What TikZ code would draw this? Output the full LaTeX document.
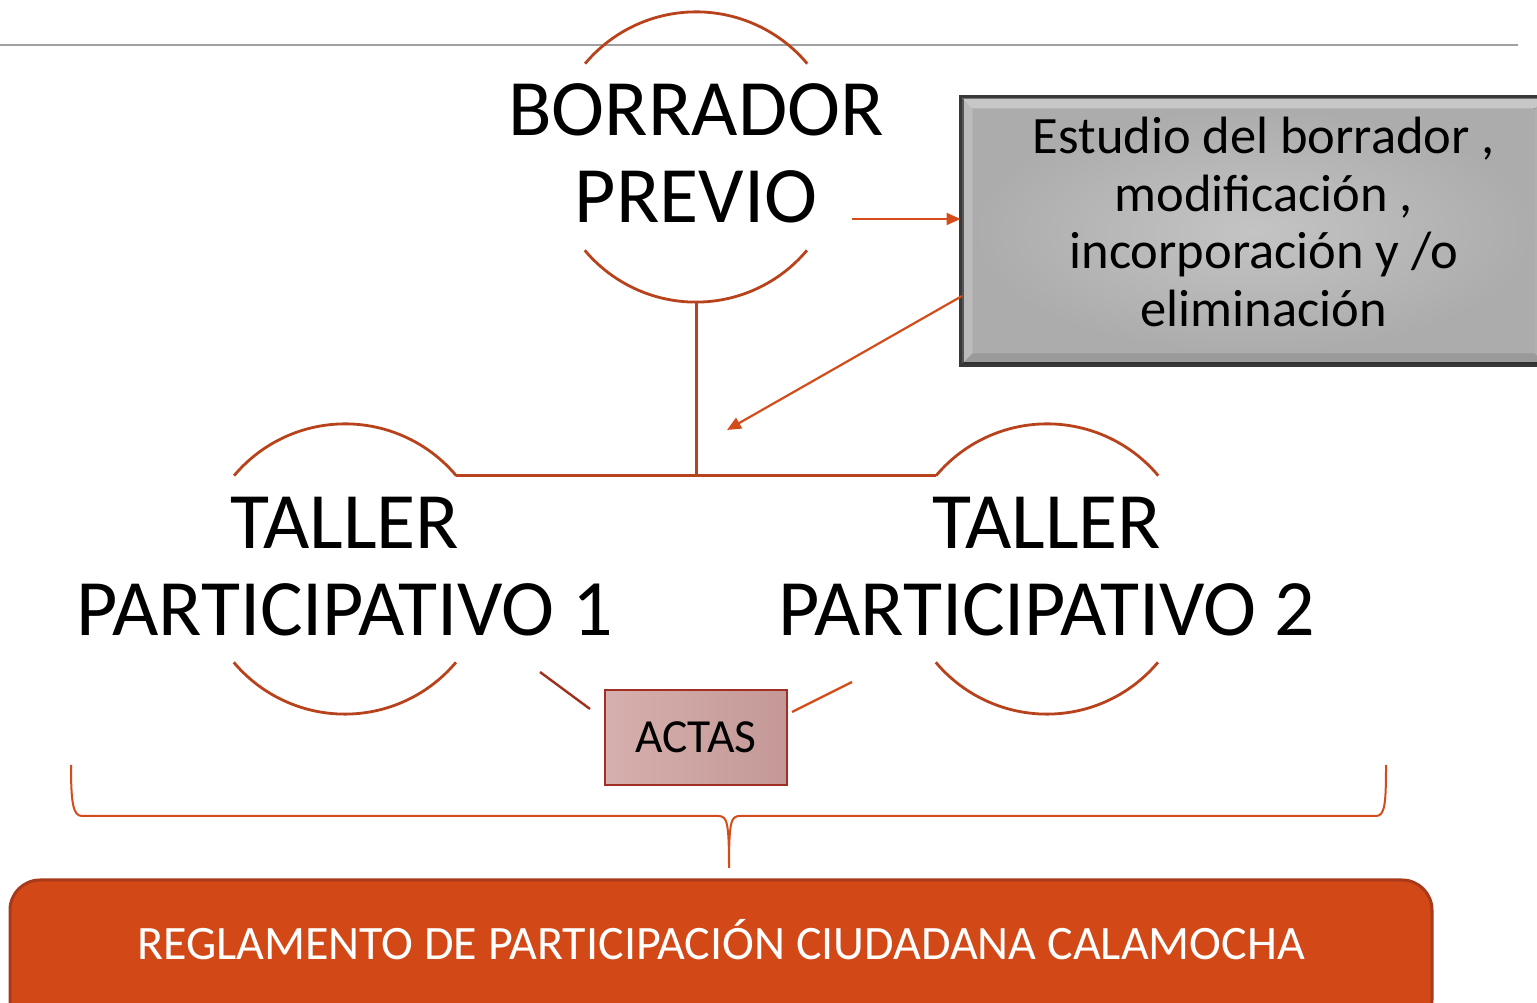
\documentclass[tikz,border=0pt]{standalone}
\usepackage{fontspec}
\setmainfont{Carlito}
\usetikzlibrary{arrows.meta,shapes.geometric}
\definecolor{arcc}{RGB}{184,66,28}
\definecolor{orng}{RGB}{211,76,26}
\definecolor{dred}{RGB}{160,48,30}
\definecolor{botfill}{RGB}{210,73,23}
\definecolor{botdraw}{RGB}{168,57,26}
\definecolor{actfillA}{RGB}{214,176,174}
\definecolor{actfillB}{RGB}{196,152,150}
\definecolor{actdraw}{RGB}{160,48,38}
\definecolor{rulec}{RGB}{160,160,160}
\tikzset{
  ring/.style={circle, minimum size=290pt, inner sep=0pt, draw=none},
  arcline/.style={draw=arcc, line width=2.8pt},
  conn/.style={draw=arcc, line width=3pt},
  arr/.style={draw=orng, line width=2.2pt, -{Triangle[length=14pt,width=12pt]}},
  bigtext/.style={font=\fontsize{80}{87}\selectfont, align=center, inner sep=0pt},
  graybox/.style={draw=black!78, line width=3pt, minimum width=583pt, minimum height=266pt, inner sep=0pt},
  graytext/.style={font=\fontsize{52.5}{57.5}\selectfont, align=center, inner sep=0pt},
  actbox/.style={draw=actdraw, line width=2.4pt, minimum width=182pt, minimum height=95pt, inner sep=0pt,
     shading=axis, shading angle=135, left color=actfillA, right color=actfillB, font=\fontsize{47.5}{54}\selectfont},
  botbox/.style={draw=botdraw, line width=3pt, fill=botfill, rounded corners=30pt, minimum width=1422pt, minimum height=150pt, inner sep=0pt},
  bottext/.style={text=white, font=\fontsize{48}{54}\selectfont, inner sep=0pt},
  bracec/.style={draw=orng, line width=2pt},
}
\begin{document}
\begin{tikzpicture}[x=1pt,y=1pt]
\useasboundingbox (0,0) rectangle (1537,1003);
\clip (0,0) rectangle (1537,1003);
% top rule
\draw[rulec, line width=1.5pt] (0,958) -- (1518,958);

% circles (invisible frames) and arcs
\node[ring] (bor) at (696,846) {};
\node[ring] (c1) at (345,434) {};
\node[ring] (c2) at (1047,434) {};
\foreach \n in {bor,c1,c2}{
  \draw[arcline] (\n.40) arc[start angle=40, end angle=140, radius=145pt];
  \draw[arcline] (\n.220) arc[start angle=220, end angle=320, radius=145pt];
}
\node[bigtext] (tbor) at (696,849.5) {BORRADOR\\PREVIO};
\node[bigtext] (t1) at (345,436.5) {TALLER\\PARTICIPATIVO 1};
\node[bigtext] (t2) at (1047,436.5) {TALLER\\PARTICIPATIVO 2};

% tree connectors
\draw[conn] (c1.40) -- (c2.140);
\draw[conn] (bor.south) -- (bor.south |- c1.40);

% gray box
\node[graybox, fill={rgb,255:red,176;green,176;blue,176}] (gray) at (1253.5,772) {};
\fill[inner color={rgb,255:red,196;green,196;blue,196}, outer color={rgb,255:red,172;green,172;blue,172}]
  ([shift={(12pt,12pt)}]gray.south west) rectangle ([shift={(-12pt,-12pt)}]gray.north east);
\fill[white, opacity=0.3] (gray.north west) -- (gray.north east) -- ([shift={(-12pt,-12pt)}]gray.north east) -- ([shift={(12pt,-12pt)}]gray.north west) -- cycle;
\fill[white, opacity=0.15] (gray.north west) -- ([shift={(12pt,-12pt)}]gray.north west) -- ([shift={(12pt,12pt)}]gray.south west) -- (gray.south west) -- cycle;
\fill[black, opacity=0.12] (gray.south west) -- ([shift={(12pt,12pt)}]gray.south west) -- ([shift={(-12pt,12pt)}]gray.south east) -- (gray.south east) -- cycle;
\draw[draw=black!78, line width=3pt] (gray.south west) rectangle (gray.north east);
\node[graytext] (gtext) at (1264,781) {Estudio del borrador ,\\modificación ,\\incorporación y /o\\eliminación};

% arrows
\coordinate (a1s) at (852,784);
\draw[arr] (a1s) -- (a1s -| gray.west);
\coordinate (a2s) at (962,707);
\coordinate (a2e) at (727,573);
\draw[arr] (a2s) -- (a2e);

% actas
\node[actbox] (actas) at (696,265.5) {ACTAS};
\coordinate (l1a) at (540,331);
\coordinate (l1b) at (590,294);
\coordinate (l2a) at (792,291);
\coordinate (l2b) at (852,321);
\draw[draw=dred, line width=2.4pt] (l1a) -- (l1b);
\draw[draw=orng, line width=2.4pt] (l2a) -- (l2b);

% brace
\draw[bracec] (71,238) .. controls (71,200) and (73,187) .. (82,187)
  -- (718,187) .. controls (727,187) and (729,182) .. (729,135)
  .. controls (729,182) and (731,187) .. (740,187)
  -- (1376,187) .. controls (1385,187) and (1386,200) .. (1386,238);

% bottom box
\node[botbox] (reg) at (721,48) {};
\node[bottext, anchor=base] (regt) at (721,43) {REGLAMENTO DE PARTICIPACIÓN CIUDADANA CALAMOCHA};
\end{tikzpicture}
\end{document}
